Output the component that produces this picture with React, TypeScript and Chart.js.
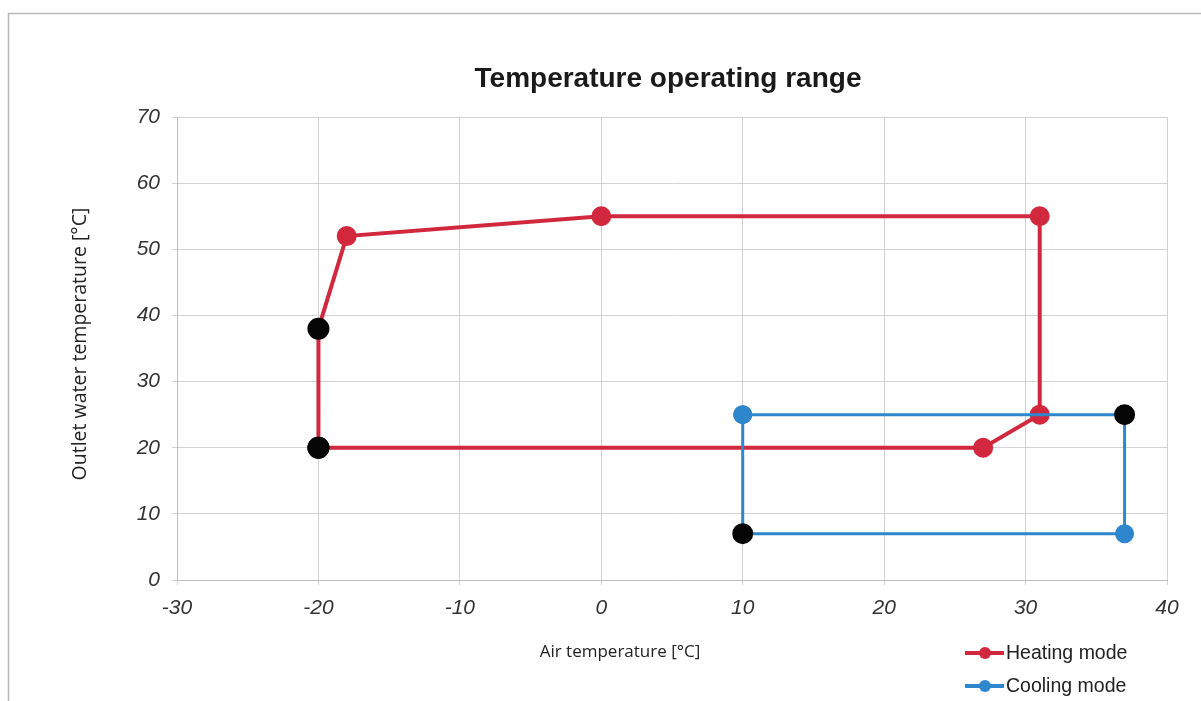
import React, { useEffect, useRef } from "react";
import { Chart, registerables } from "chart.js";

Chart.register(...registerables);

const heatingX = [-20, -20, -18, 0, 31, 31, 27, -20];
const heatingY = [20, 38, 52, 55, 55, 25, 20, 20];
const heatingBlack = [true, true, false, false, false, false, false, true];

const coolingX = [10, 37, 37, 10, 10];
const coolingY = [25, 25, 7, 7, 25];
const coolingBlack = [false, true, false, true, false];

const xTicks = [-30, -20, -10, 0, 10, 20, 30, 40];
const yTicks = [0, 10, 20, 30, 40, 50, 60, 70];

const titleText = "Temperature operating range";
const xTitle = "Air temperature [°C]";
const yTitle = "Outlet water temperature [°C]";
const legendLabels = ["Heating mode", "Cooling mode"];

const RED = "#d1283e";
const BLUE = "#2e87cc";
const BLACK = "#050505";

const textPlugin = {
  id: "textPlugin",
  beforeDraw(chart: any) {
    const ctx = chart.ctx;
    ctx.save();
    ctx.fillStyle = "#ffffff";
    ctx.fillRect(0, 0, chart.width, chart.height);
    ctx.strokeStyle = "#b8b8b8";
    ctx.lineWidth = 1.5;
    ctx.beginPath();
    ctx.moveTo(8.5, chart.height);
    ctx.lineTo(8.5, 13.5);
    ctx.lineTo(chart.width, 13.5);
    ctx.stroke();
    ctx.restore();
  },
  afterDraw(chart: any) {
    const ctx = chart.ctx;
    ctx.save();
    // title
    ctx.fillStyle = "#1a1a1a";
    ctx.font = "bold 28px 'Liberation Sans', Arial, sans-serif";
    ctx.textAlign = "center";
    ctx.textBaseline = "middle";
    ctx.fillText(titleText, 668, 79);
    // x title
    ctx.font = "17px 'Open Sans', sans-serif";
    ctx.fillStyle = "#222";
    ctx.fillText(xTitle, 620, 652);
    // y title
    ctx.save();
    ctx.translate(80, 344);
    ctx.rotate(-Math.PI / 2);
    ctx.font = "19.5px 'Open Sans', sans-serif";
    ctx.fillText(yTitle, 0, 0);
    ctx.restore();
    // legend
    const colors = [RED, BLUE];
    const ys = [653, 686];
    for (let i = 0; i < 2; i++) {
      ctx.strokeStyle = colors[i];
      ctx.lineWidth = 4;
      ctx.beginPath();
      ctx.moveTo(965, ys[i]);
      ctx.lineTo(1004, ys[i]);
      ctx.stroke();
      ctx.fillStyle = colors[i];
      ctx.beginPath();
      ctx.arc(985, ys[i], 6, 0, Math.PI * 2);
      ctx.fill();
      ctx.fillStyle = "#222";
      ctx.font = "19.5px 'Liberation Sans', Arial, sans-serif";
      ctx.textAlign = "left";
      ctx.textBaseline = "middle";
      ctx.fillText(legendLabels[i], 1006, ys[i] + 1);
    }
    ctx.restore();
  },
};

export default function App() {
  const ref = useRef<HTMLCanvasElement | null>(null);
  useEffect(() => {
    if (!ref.current) return;
    const heatingData = heatingX.map((x, i) => ({ x, y: heatingY[i] }));
    const coolingData = coolingX.map((x, i) => ({ x, y: coolingY[i] }));
    const tickFont = { size: 21, style: "italic" as const, family: "'Liberation Sans', Arial, sans-serif" };
    const chart = new Chart(ref.current, {
      type: "scatter",
      data: {
        datasets: [
          {
            label: legendLabels[0],
            data: heatingData,
            showLine: true,
            borderColor: RED,
            borderWidth: 4,
            pointBackgroundColor: heatingBlack.map((b) => (b ? BLACK : RED)),
            pointBorderColor: heatingBlack.map((b) => (b ? BLACK : RED)),
            pointRadius: heatingBlack.map((b) => (b ? 9 : 8)),
            order: 2,
          },
          {
            label: legendLabels[1],
            data: coolingData,
            showLine: true,
            borderColor: BLUE,
            borderWidth: 3,
            pointBackgroundColor: coolingBlack.map((b) => (b ? BLACK : BLUE)),
            pointBorderColor: coolingBlack.map((b) => (b ? BLACK : BLUE)),
            pointRadius: coolingBlack.map((b) => (b ? 9 : 8)),
            order: 1,
          },
        ],
      },
      options: {
        responsive: false,
        animation: false,
        layout: { padding: { top: 117, right: 34, bottom: 0, left: 0 } },
        plugins: {
          legend: { display: false },
          title: { display: false },
          tooltip: { enabled: false },
        },
        scales: {
          x: {
            type: "linear",
            min: -30,
            max: 40,
            afterBuildTicks: (s: any) => {
              s.ticks = xTicks.map((v) => ({ value: v }));
            },
            afterFit: (s: any) => {
              s.height = 121;
            },
            ticks: {
              color: "#333",
              font: tickFont,
              padding: 11,
              maxRotation: 0,
            },
            grid: { color: "#d2d2d2", lineWidth: 1, tickLength: 5 },
            border: { color: "#bdbdbd" },
          },
          y: {
            type: "linear",
            min: 0,
            max: 70,
            afterBuildTicks: (s: any) => {
              s.ticks = yTicks.map((v) => ({ value: v }));
            },
            afterFit: (s: any) => {
              s.width = 177;
            },
            ticks: {
              color: "#333",
              font: tickFont,
              padding: 12,
            },
            grid: { color: "#d2d2d2", lineWidth: 1, tickLength: 5 },
            border: { color: "#bdbdbd" },
          },
        },
      },
      plugins: [textPlugin],
    });
    return () => chart.destroy();
  }, []);
  return (
    <div style={{ position: "fixed", left: 0, top: 0, width: 1201, height: 701, background: "#fff" }}>
      <canvas ref={ref} width={1201} height={701} style={{ width: 1201, height: 701, display: "block" }} />
    </div>
  );
}
